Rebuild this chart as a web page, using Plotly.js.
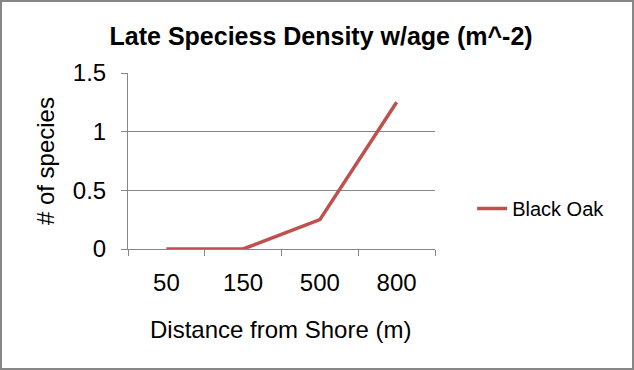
<!DOCTYPE html>
<html>
<head>
<meta charset="utf-8">
<script src="https://cdn.plot.ly/plotly-3.0.1.min.js"></script>
<style>
  html, body { margin: 0; padding: 0; background: #fff; }
  #wrap { position: relative; width: 634px; height: 370px; }
  #chart { width: 634px; height: 370px; }
  #frame { position: absolute; left: 0; top: 0; width: 634px; height: 370px; box-sizing: border-box; border: 2px solid #878787; pointer-events: none; }
</style>
</head>
<body>
<div id="wrap"><div id="chart"></div><div id="frame"></div></div>
<script>
const categories = ["50", "150", "500", "800"];
const blackOak = [0, 0, 0.25, 1.25];
const yTicks = [0, 0.5, 1, 1.5];
const yTickLabels = ["0", "0.5", "1", "1.5"];
const seriesName = "Black Oak";
const chartTitle = "Late Speciess Density w/age (m^-2)";
const xTitle = "Distance from Shore (m)";
const yTitle = "# of species";

const font = "Liberation Sans, Arial, sans-serif";
const grey = "#868686";

const data = [{
  type: "scatter",
  mode: "lines",
  x: categories,
  y: blackOak,
  name: seriesName,
  line: { color: "#C0504D", width: 3.5 }
}];

const layout = {
  width: 634,
  height: 370,
  margin: { l: 128, r: 199, t: 73, b: 121 },
  paper_bgcolor: "#fff",
  plot_bgcolor: "#fff",
  font: { family: font, color: "#000" },
  title: {
    text: chartTitle,
    font: { family: font, size: 25, color: "#000", weight: "bold" },
    x: 0.629, xanchor: "center", xref: "paper",
    y: 1, yref: "container", yanchor: "top", pad: { t: 27 }
  },
  showlegend: true,
  legend: {
    x: 1.121, xanchor: "left", y: 0.23, yanchor: "middle",
    font: { family: font, size: 20, color: "#000" },
    bgcolor: "rgba(0,0,0,0)"
  },
  xaxis: {
    type: "category",
    range: [-0.5, 3.5],
    showgrid: false,
    showline: true, linecolor: grey, linewidth: 1,
    ticks: "outside", tickson: "boundaries", ticklen: 6, tickcolor: grey,
    tickfont: { family: font, size: 24, color: "#000" },
    ticklabelstandoff: 12,
    zeroline: false,
    fixedrange: true
  },
  yaxis: {
    range: [0, 1.5],
    tickvals: yTicks,
    ticktext: yTickLabels,
    showgrid: true, gridcolor: grey, gridwidth: 1,
    showline: true, linecolor: grey, linewidth: 1,
    ticks: "outside", ticklen: 6, tickcolor: grey,
    tickfont: { family: font, size: 24, color: "#000" },
    ticklabelstandoff: 10,
    zeroline: false,
    fixedrange: true
  },
  annotations: [
    {
      text: xTitle, xref: "paper", yref: "paper",
      x: 0.498, y: -0.455, xanchor: "center", yanchor: "middle",
      showarrow: false, font: { family: font, size: 24, color: "#000" }
    },
    {
      text: yTitle, xref: "paper", yref: "paper",
      x: -0.27, y: 0.5, xanchor: "center", yanchor: "middle", textangle: -90,
      showarrow: false, font: { family: font, size: 24, color: "#000" }
    }
  ]
};

Plotly.newPlot("chart", data, layout, { displayModeBar: false, staticPlot: true });
</script>
</body>
</html>
